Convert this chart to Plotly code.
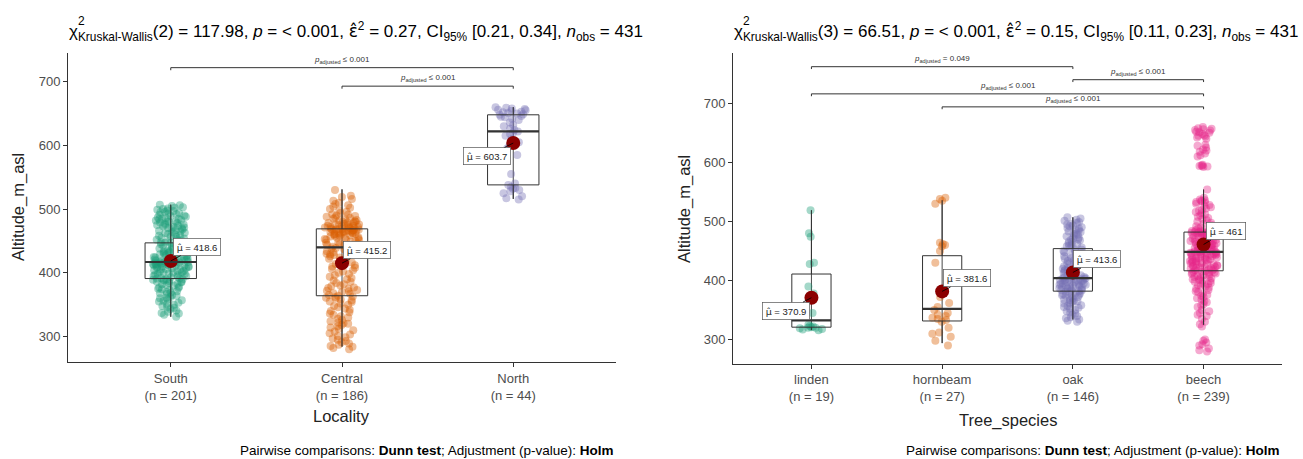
import plotly.graph_objects as go

W, H = 1303, 459

# ---------------- data: panel 1 (Locality) ----------------
loc_categories = ["South", "Central", "North"]
loc_counts = [201, 186, 44]
south_alt = [
    331, 334, 336, 337, 339, 341, 343, 345, 346, 348, 350, 351, 353, 355, 356, 357, 358, 360, 361, 362,
    364, 365, 367, 368, 369, 370, 371, 373, 374, 375, 376, 377, 378, 380, 381, 382, 383, 384, 385, 386,
    386, 387, 388, 389, 389, 390, 390, 391, 391, 392,
    393, 394, 395, 395, 396, 397, 398, 398, 399, 400, 400, 401, 402, 403, 403, 404, 405, 405, 406, 407,
    407, 408, 409, 409, 410, 410, 411, 411, 412, 412, 413, 413, 414, 414, 414, 415, 415, 415, 416, 416,
    416, 417, 417, 417, 418, 418, 419, 419, 420, 420,
    421, 421, 422, 423, 423, 424, 425, 425, 426, 427, 428, 428, 429, 430, 431, 431, 432, 433, 434, 435,
    435, 436, 437, 438, 438, 439, 440, 441, 441, 442, 443, 443, 444, 445, 445, 446, 447, 447, 448, 449,
    450, 451, 452, 453, 454, 455, 456, 457, 458, 459,
    460, 461, 462, 463, 464, 465, 466, 467, 468, 469, 470, 470, 471, 472, 473, 474, 475, 475, 476, 477,
    478, 479, 480, 480, 481, 482, 483, 484, 485, 485, 486, 487, 488, 489, 490, 491, 492, 493, 494, 495,
    496, 497, 498, 499, 500, 501, 502, 503, 505, 506, 507,
]
central_alt = [
    280, 282, 284, 285, 287, 289, 291, 293, 295, 297, 299, 301, 303, 305, 308, 310, 312, 314, 316, 318,
    320, 321, 322, 324, 326, 328, 330, 332, 334, 336, 338, 340, 342, 344, 346, 348, 350, 352, 354, 355,
    357, 358, 360, 361, 362, 363,
    364, 365, 367, 368, 370, 371, 372, 373, 375, 376, 377, 379, 380, 382, 384, 386, 388, 390, 392, 394,
    396, 398, 400, 402, 404, 406, 408, 410, 412, 414, 416, 418, 420, 422, 424, 426, 428, 429, 430, 432,
    433, 434, 435, 436, 437, 438, 439,
    440, 441, 442, 443, 444, 445, 446, 447, 448, 449, 450, 451, 452, 452, 453, 454, 455, 455, 456, 457,
    458, 458, 459, 460, 460, 461, 461, 462, 462, 463, 463, 464, 464, 465, 465, 466, 466, 466, 467, 467,
    467, 468, 468, 468, 469, 469, 469,
    470, 470, 471, 471, 472, 472, 473, 473, 474, 474, 475, 475, 476, 476, 477, 478, 478, 479, 480, 480,
    481, 482, 483, 484, 485, 486, 487, 488, 489, 490, 491, 492, 494, 496, 498, 500, 502, 504, 506, 508,
    510, 513, 516, 519, 521, 530,
]
north_alt = [
    515, 517, 520, 525, 528, 530, 532, 533, 535, 538, 540, 555, 585, 595, 600, 605, 610, 615, 618, 620,
    622, 624, 626, 630, 632, 636, 640, 642, 644, 645, 646, 648, 649, 650, 651, 652, 653, 654, 655, 656,
    657, 658, 659, 660,
]
loc_values = [south_alt, central_alt, north_alt]
loc_means = [418.6, 415.2, 603.7]
loc_q1 = [391, 364, 538]
loc_median = [417, 440, 622]
loc_q3 = [447, 469, 648]
loc_lower = [331, 284, 516]
loc_upper = [507, 531, 660]
loc_pairs = [("South", "North"), ("Central", "North")]
loc_pair_p = ["≤ 0.001", "≤ 0.001"]
loc_pair_y = [722, 693]
loc_title_stats = ["(2) = 117.98", "< 0.001", "0.27", "[0.21, 0.34]", "431"]

# ---------------- data: panel 2 (Tree species) ----------------
sp_categories = ["linden", "hornbeam", "oak", "beech"]
sp_counts = [19, 27, 146, 239]
linden_alt = [316, 317, 318, 319, 320, 320, 321, 322, 323, 325, 345, 372, 378, 390, 428, 430, 474, 480, 519]
hornbeam_alt = [290, 298, 305, 310, 312, 320, 330, 333, 335, 337, 340, 342, 345, 350, 355, 362, 372, 430,
                450, 458, 460, 462, 464, 530, 535, 538, 540]
oak_alt = [
    330, 332, 334, 336, 338, 340, 342, 344, 346, 348, 350, 352, 354, 355, 357, 358, 360, 361, 362, 364,
    365, 366, 367, 368, 370, 371, 372, 373, 374, 375, 376, 377, 378, 379, 380, 381,
    382, 383, 383, 384, 385, 385, 386, 387, 387, 388, 389, 389, 390, 391, 391, 392, 393, 393, 394, 395,
    395, 396, 397, 397, 398, 399, 399, 400, 400, 401, 401, 402, 402, 403, 403, 404, 404,
    405, 406, 408, 409, 410, 412, 413, 414, 416, 417, 418, 420, 421, 422, 424, 425, 426, 428, 429, 430,
    432, 433, 434, 436, 437, 438, 440, 441, 442, 444, 445, 446, 448, 449, 450, 452, 453,
    455, 456, 458, 459, 460, 462, 463, 465, 466, 468, 469, 470, 472, 473, 475, 476, 478, 479, 480, 482,
    483, 485, 486, 488, 489, 490, 492, 493, 495, 496, 498, 499, 501, 503, 505, 507,
]
beech_alt = [
    280, 282, 285, 290, 292, 295, 298, 300,
    322, 326, 330, 335, 340, 342, 345, 348, 350, 355, 358, 360, 363, 365, 368, 370, 372, 374, 376, 378,
    380, 382, 384, 386, 388, 390, 391, 392, 394, 395, 396, 398, 399, 400, 401, 402, 403, 404, 405, 406,
    407, 408, 409, 410, 411, 412, 413, 413, 414, 415, 415, 416,
    417, 417, 418, 419, 419, 420, 421, 421, 422, 423, 423, 424, 425, 425, 426, 427, 427, 428, 429, 429,
    430, 431, 431, 432, 433, 433, 434, 435, 435, 436, 437, 437, 438, 439, 439, 440, 441, 441, 442, 443,
    443, 444, 444, 445, 445, 446, 446, 447, 447, 448, 448, 448, 449, 449, 450, 450, 451, 451, 452, 452,
    453, 453, 454, 455, 455, 456, 457, 457, 458, 459, 459, 460, 461, 461, 462, 463, 463, 464, 465, 465,
    466, 467, 467, 468, 469, 469, 470, 471, 471, 472, 473, 473, 474, 475, 475, 476, 476, 477, 477, 478,
    478, 479, 479, 480, 480, 480, 481, 481, 481, 482, 482, 482, 483, 483, 484, 484, 485, 485, 486,
    488, 490, 492, 494, 496, 498, 500, 502, 504, 506, 508, 510, 512, 514, 516, 518, 520, 522, 524, 526,
    528, 530, 532, 533, 534, 535, 536, 537, 540, 554,
    592, 593, 594, 594, 595, 596, 610, 612, 615, 618, 620, 622, 625, 628, 630, 640, 642, 644, 645, 646,
    648, 650, 651, 652, 654, 655, 656, 657, 658, 660,
]
sp_values = [linden_alt, hornbeam_alt, oak_alt, beech_alt]
sp_means = [370.9, 381.6, 413.6, 461.0]
sp_q1 = [321, 331.5, 382, 416.5]
sp_median = [332.6, 352, 404, 448.5]
sp_q3 = [411, 442, 454, 482]
sp_lower = [316, 294, 334, 325]
sp_upper = [519, 536, 507, 554]
sp_pairs = [("linden", "oak"), ("oak", "beech"), ("linden", "beech"), ("hornbeam", "beech")]
sp_pair_p = ["= 0.049", "≤ 0.001", "≤ 0.001", "≤ 0.001"]
sp_pair_y = [762, 740, 716, 694]
sp_title_stats = ["(3) = 66.51", "< 0.001", "0.15", "[0.11, 0.23]", "431"]

# ---------------- styling ----------------
FONT = "Liberation Sans, Arial, sans-serif"
MARKFONT = "DejaVu Sans"
DARK2 = ["#1B9E77", "#D95F02", "#7570B3", "#E7298A"]
AXC = "#333333"
TICKC = "#4D4D4D"
BOX_HALF = 0.15


def px_x(p):
    return p / W


def px_y(p):
    return 1 - p / H


def hat(ch):
    return f"<span style='font-family:{MARKFONT}'>{ch}\u0302</span>"


fig = go.Figure()
shapes = []
annotations = []

panels = [
    dict(xa="x", ya="y", xname="xaxis", yname="yaxis",
         cats=loc_categories, counts=loc_counts, vals=loc_values, means=loc_means,
         q1=loc_q1, med=loc_median, q3=loc_q3, lo=loc_lower, hi=loc_upper,
         pairs=loc_pairs, pp=loc_pair_p, py=loc_pair_y, stats=loc_title_stats,
         xdom=(68, 616), ydom=(362, 52.7), yrange=(260, 745.5),
         offs=[(26, -14), (25, -13), (-26, 13)],
         xtitle="Locality", ytitle_x=19, xtitle_y=416, ytitle_y=207),
    dict(xa="x2", ya="y2", xname="xaxis2", yname="yaxis2",
         cats=sp_categories, counts=sp_counts, vals=sp_values, means=sp_means,
         q1=sp_q1, med=sp_median, q3=sp_q3, lo=sp_lower, hi=sp_upper,
         pairs=sp_pairs, pp=sp_pair_p, py=sp_pair_y, stats=sp_title_stats,
         xdom=(733, 1282), ydom=(363.5, 52.7), yrange=(259.5, 785.7),
         offs=[(-25, 13), (25, -13), (24, -13), (22, -13)],
         xtitle="Tree_species", ytitle_x=684, xtitle_y=420, ytitle_y=209),
]

layout_axes = {}
for P in panels:
    cats = P["cats"]
    for i, c in enumerate(cats):
        col = DARK2[i]
        # whisker line through the box
        shapes.append(dict(type="line", xref=P["xa"], yref=P["ya"], x0=i, x1=i,
                           y0=P["lo"][i], y1=P["hi"][i], line=dict(color=AXC, width=0.9), layer="below"))
        # jittered points
        fig.add_trace(go.Box(
            x=[c] * len(P["vals"][i]), y=P["vals"][i], xaxis=P["xa"], yaxis=P["ya"],
            boxpoints="all", jitter=0.7, pointpos=0,
            marker=dict(color=col, opacity=0.4, size=8, line=dict(width=0)),
            line=dict(width=0, color="rgba(0,0,0,0)"), fillcolor="rgba(0,0,0,0)",
            whiskerwidth=0, hoverinfo="skip", showlegend=False))
        # box with summary statistics
        fig.add_trace(go.Box(
            x=[c], q1=[P["q1"][i]], median=[P["med"][i]], q3=[P["q3"][i]],
            lowerfence=[P["lo"][i]], upperfence=[P["hi"][i]], xaxis=P["xa"], yaxis=P["ya"],
            boxpoints=False, line=dict(color=AXC, width=1), fillcolor="rgba(255,255,255,0)",
            whiskerwidth=0, hoverinfo="skip", showlegend=False))
        # thick median
        shapes.append(dict(type="line", xref=P["xa"], yref=P["ya"], x0=i - BOX_HALF, x1=i + BOX_HALF,
                           y0=P["med"][i], y1=P["med"][i], line=dict(color=AXC, width=2.2)))
    # mean markers
    fig.add_trace(go.Scatter(x=cats, y=P["means"], xaxis=P["xa"], yaxis=P["ya"], mode="markers",
                             marker=dict(color="#8B0000", size=14), hoverinfo="skip", showlegend=False))
    for i, m in enumerate(P["means"]):
        ax, ay = P["offs"][i]
        annotations.append(dict(
            x=i, y=m, xref=P["xa"], yref=P["ya"], text=f"{hat('μ')} = {m:g}",
            showarrow=True, arrowhead=0, arrowwidth=0.8, arrowcolor="black", ax=ax, ay=ay,
            font=dict(family=FONT, size=9.5, color="#222"), bgcolor="white",
            bordercolor="#555", borderwidth=0.7, borderpad=3))
    # pairwise comparison brackets
    for (a, b), p, yv in zip(P["pairs"], P["pp"], P["py"]):
        ia, ib = cats.index(a), cats.index(b)
        tick = 4
        for x0, x1, y0, y1 in [(ia, ib, yv, yv), (ia, ia, yv, yv - tick), (ib, ib, yv, yv - tick)]:
            shapes.append(dict(type="line", xref=P["xa"], yref=P["ya"], x0=x0, x1=x1, y0=y0, y1=y1,
                               line=dict(color=AXC, width=1)))
        annotations.append(dict(
            x=(ia + ib) / 2, y=yv, xref=P["xa"], yref=P["ya"], yanchor="bottom", yshift=1,
            text=f"<i>p</i><sub>adjusted</sub> {p}", showarrow=False,
            font=dict(family=FONT, size=8, color="#333")))
    # axes
    xd = P["xdom"]
    yd = P["ydom"]
    layout_axes[P["xname"]] = dict(
        type="category", categoryorder="array", categoryarray=cats,
        range=[-0.6, len(cats) - 0.4], domain=[px_x(xd[0]), px_x(xd[1])], anchor=P["ya"],
        showline=True, linecolor=AXC, linewidth=1, ticks="outside", ticklen=4, tickcolor=AXC,
        tickvals=cats, ticktext=[f"{c}<br>(n = {n})" for c, n in zip(cats, P["counts"])],
        tickfont=dict(family=FONT, size=13, color=TICKC), showgrid=False, zeroline=False)
    layout_axes[P["yname"]] = dict(
        range=list(P["yrange"]), domain=[px_y(yd[0]), px_y(yd[1])], anchor=P["xa"],
        showline=True, linecolor=AXC, linewidth=1, ticks="outside", ticklen=4, tickcolor=AXC,
        tickvals=[300, 400, 500, 600, 700],
        tickfont=dict(family=FONT, size=13, color=TICKC), showgrid=False, zeroline=False)
    # axis titles
    annotations.append(dict(x=px_x((xd[0] + xd[1]) / 2), y=px_y(P["xtitle_y"]), xref="paper", yref="paper",
                            text=P["xtitle"], showarrow=False, xanchor="center", yanchor="middle",
                            font=dict(family=FONT, size=16.5, color="#222")))
    annotations.append(dict(x=px_x(P["ytitle_x"]), y=px_y(P["ytitle_y"]), xref="paper", yref="paper",
                            text="Altitude_m_asl", textangle=-90, showarrow=False,
                            xanchor="center", yanchor="middle",
                            font=dict(family=FONT, size=16.5, color="#222")))
    # title (statistics)
    s = P["stats"]
    title = (f"χ<sub>Kruskal-Wallis</sub>{s[0]}, <i>p</i> = {s[1]}, {hat('ε')}<sup>2</sup> = {s[2]}, "
             f"CI<sub>95%</sub> {s[3]}, <i>n</i><sub>obs</sub> = {s[4]}")
    annotations.append(dict(x=px_x(xd[0] - 1), y=px_y(31), xref="paper", yref="paper", text=title,
                            showarrow=False, xanchor="left", yanchor="middle",
                            font=dict(family=FONT, size=17, color="black")))
    annotations.append(dict(x=px_x(xd[0] + 8), y=px_y(21), xref="paper", yref="paper", text="2",
                            showarrow=False, xanchor="left", yanchor="middle",
                            font=dict(family=FONT, size=12, color="black")))
    # caption
    annotations.append(dict(x=px_x(xd[1]), y=px_y(450), xref="paper", yref="paper",
                            text="Pairwise comparisons: <b>Dunn test</b>; Adjustment (p-value): <b>Holm</b>",
                            showarrow=False, xanchor="right", yanchor="middle",
                            font=dict(family=FONT, size=13.5, color="black")))

fig.update_layout(
    width=W, height=H, margin=dict(l=0, r=0, t=0, b=0),
    paper_bgcolor="white", plot_bgcolor="white", showlegend=False,
    boxmode="overlay", boxgap=0.7, boxgroupgap=0,
    shapes=shapes, annotations=annotations, **layout_axes)

fig.write_html("out.html", config={"displayModeBar": False},
               post_script="document.body.style.margin='0px';")
